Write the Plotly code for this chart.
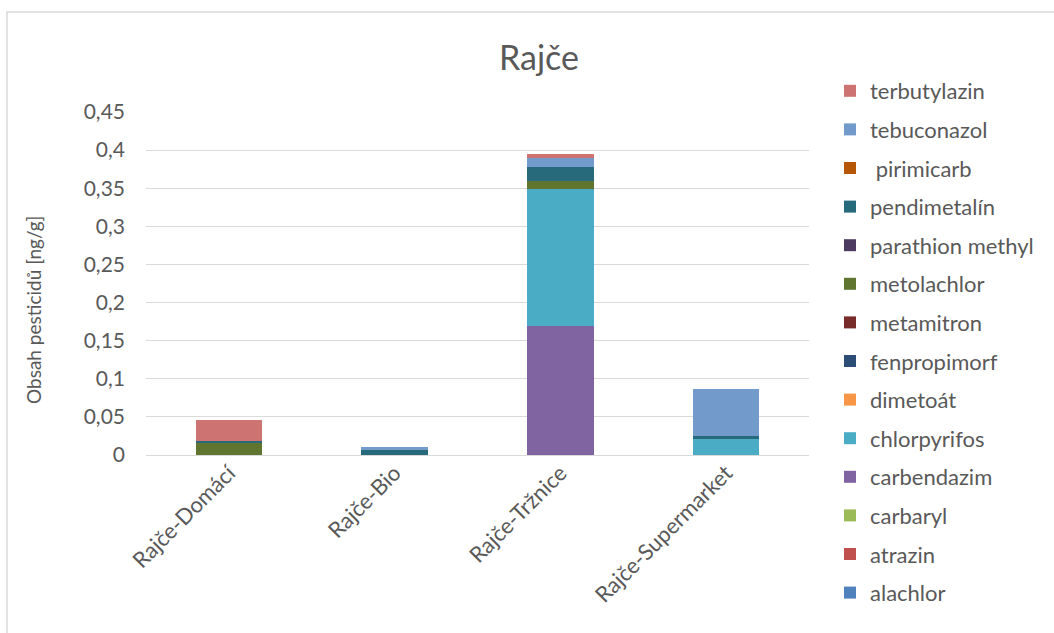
import plotly.graph_objects as go

categories = ["Rajče-Domácí", "Rajče-Bio", "Rajče-Tržnice", "Rajče-Supermarket"]

series_names = ["alachlor", "atrazin", "carbaryl", "carbendazim", "chlorpyrifos", "dimetoát",
                "fenpropimorf", "metamitron", "metolachlor", "parathion methyl", "pendimetalín",
                " pirimicarb", "tebuconazol", "terbutylazin"]

alachlor = [0, 0, 0, 0]
atrazin = [0, 0, 0, 0]
carbaryl = [0, 0, 0, 0]
carbendazim = [0, 0, 0.169, 0]
chlorpyrifos = [0.0005, 0, 0.180, 0.021]
dimetoat = [0, 0, 0, 0]
fenpropimorf = [0, 0, 0, 0]
metamitron = [0, 0, 0, 0]
metolachlor = [0.016, 0, 0.0105, 0]
parathion_methyl = [0, 0, 0, 0]
pendimetalin = [0.002, 0.007, 0.018, 0.004]
pirimicarb = [0, 0, 0, 0]
tebuconazol = [0, 0.003, 0.012, 0.062]
terbutylazin = [0.027, 0, 0.005, 0]

series_values = [alachlor, atrazin, carbaryl, carbendazim, chlorpyrifos, dimetoat,
                 fenpropimorf, metamitron, metolachlor, parathion_methyl, pendimetalin,
                 pirimicarb, tebuconazol, terbutylazin]

colors = ["#4F81BD", "#C0504D", "#9BBB59", "#8064A2", "#4BACC6", "#F79646",
          "#2C4D75", "#772C2A", "#5F7530", "#4D3B62", "#276A7C", "#B65708",
          "#729ACA", "#CD7371"]

tick_vals = [0, 0.05, 0.1, 0.15, 0.2, 0.25, 0.3, 0.35, 0.4, 0.45]
tick_text = ["0", "0,05", "0,1", "0,15", "0,2", "0,25", "0,3", "0,35", "0,4", "0,45"]

y_title = "Obsah pesticidů [ng/g]"

FONT = "Lato, Carlito, sans-serif"
GREY = "#595959"

fig = go.Figure()
n = len(series_names)
for i, (name, vals, col) in enumerate(zip(series_names, series_values, colors)):
    fig.add_trace(go.Bar(x=categories, y=vals, name=name, marker_color=col,
                         marker_line_width=0, legendgroup=name, legendrank=(n - i) * 10))

fig.update_layout(
    barmode="stack",
    bargap=0.6,
    width=1054, height=633,
    paper_bgcolor="white", plot_bgcolor="white",
    margin=dict(l=146, r=245, t=112, b=178),
    font=dict(family=FONT, color=GREY, size=20),
    title=dict(text="Rajče", x=539 / 1054, xanchor="center", y=1 - 58 / 633, yanchor="middle",
               xref="container", yref="container",
               font=dict(size=34, color=GREY, family=FONT)),
    legend=dict(traceorder="grouped", xref="container", yref="container",
                x=830 / 1054, xanchor="left", y=1 - 70 / 633, yanchor="top",
                font=dict(size=22, color=GREY, family=FONT), tracegroupgap=7,
                itemwidth=30, bgcolor="rgba(0,0,0,0)", maxheight=620),
    xaxis=dict(tickangle=-45, showline=False, ticks="", tickfont=dict(size=22, color=GREY)),
    yaxis=dict(range=[0, 0.45], tickvals=tick_vals, ticktext=tick_text, showgrid=True,
               gridcolor="#D9D9D9", gridwidth=1, zeroline=True, zerolinecolor="#D9D9D9",
               zerolinewidth=1, ticks="", tickfont=dict(size=21, color=GREY),
               ticklabelstandoff=20),
    annotations=[dict(text=y_title, textangle=-90, xref="paper", yref="paper",
                      x=(33 - 146) / 663, y=(455 - 310) / 343, xanchor="center", yanchor="middle",
                      showarrow=False, font=dict(size=19, color=GREY, family=FONT))],
    shapes=[dict(type="rect", xref="paper", yref="paper", x0=(7 - 146) / 663, x1=1.6,
                 y0=-1.0, y1=(455 - 12) / 343, line=dict(color="#D9D9D9", width=1.5),
                 fillcolor="rgba(0,0,0,0)", layer="below")],
)

fig.write_html("out.html")
